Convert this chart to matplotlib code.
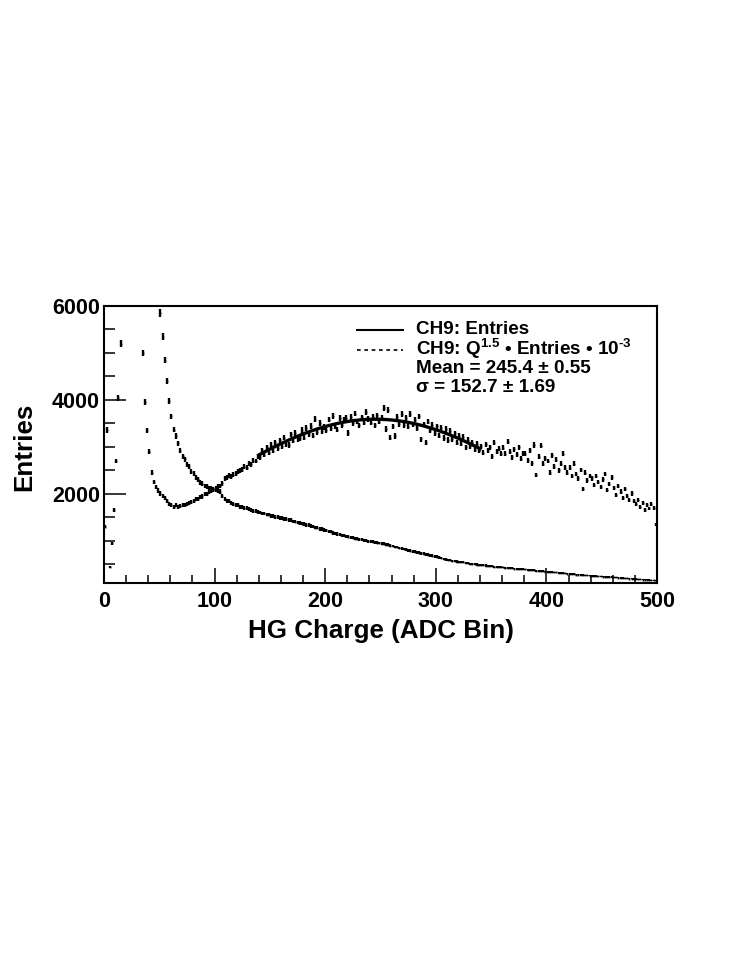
import numpy as np
import matplotlib
matplotlib.use('Agg')
import matplotlib.pyplot as plt
from matplotlib.ticker import MultipleLocator, FixedLocator
from matplotlib.lines import Line2D

plt.rcParams['font.family'] = ['Liberation Sans', 'DejaVu Sans']
plt.rcParams['font.weight'] = 'bold'
plt.rcParams['mathtext.fontset'] = 'custom'
plt.rcParams['mathtext.rm'] = 'Liberation Sans:bold'
plt.rcParams['mathtext.bf'] = 'Liberation Sans:bold'
plt.rcParams['mathtext.it'] = 'Liberation Sans:bold'
plt.rcParams['mathtext.default'] = 'rm'

# ---------------- data ----------------
bin_centers = np.arange(1, 500, 2)  # HG charge, 2-ADC bins

entries = [
    1300000, 650000, 40000, 51000, 61000, 74000, 87000, 89500, 94000, 99000,
    98000, 95000, 88000, 78000, 65000, 51000, 36000, 24000, 17300, 13700,
    10900, 8600, 7300, 6700, 6300, 5850, 5350, 4850, 4400, 3980,
    3650, 3370, 3230, 3080, 2920, 2800, 2740, 2620, 2580, 2470,
    2430, 2350, 2310, 2240, 2220, 2170, 2160, 2120, 2120, 2085,
    2090, 2060, 2050, 1950, 1890, 1845, 1840, 1800, 1795, 1765,
    1755, 1730, 1720, 1695, 1695, 1670, 1665, 1640, 1635, 1610,
    1605, 1585, 1585, 1560, 1560, 1535, 1535, 1510, 1510, 1490,
    1485, 1465, 1460, 1440, 1440, 1415, 1410, 1390, 1385, 1365,
    1360, 1340, 1335, 1315, 1310, 1285, 1280, 1255, 1250, 1230,
    1225, 1200, 1195, 1170, 1165, 1145, 1140, 1120, 1115, 1095,
    1090, 1075, 1070, 1050, 1048, 1035, 1030, 1015, 1012, 995,
    992, 980, 975, 960, 955, 940, 936, 920, 915, 895,
    890, 872, 868, 850, 845, 826, 820, 800, 795, 775,
    770, 758, 750, 735, 730, 715, 708, 690, 686, 668,
    664, 650, 642, 620, 605, 596, 590, 575, 572, 560,
    556, 545, 542, 530, 527, 515, 512, 500, 497, 490,
    486, 478, 476, 466, 463, 455, 452, 445, 443, 436,
    434, 428, 425, 420, 418, 412, 409, 402, 400, 395,
    392, 386, 383, 376, 374, 366, 364, 356, 354, 348,
    345, 339, 336, 330, 328, 322, 318, 311, 308, 302,
    299, 294, 291, 284, 281, 277, 274, 268, 266, 261,
    258, 254, 252, 247, 245, 240, 239, 234, 232, 228,
    226, 221, 219, 214, 212, 206, 204, 198, 196, 191,
    189, 184, 182, 177, 175, 170, 168, 163, 160, 155,
]

weighted = [
    1300, 3360, 450, 950, 1650, 2700, 4050, 5200, 6600, 8200,
    9500, 10500, 11000, 11000, 10200, 8800, 6800, 5000, 3950, 3350,
    2900, 2450, 2250, 2150, 2070, 2010, 1960, 1910, 1850, 1790,
    1765, 1730, 1755, 1720, 1752, 1765, 1770, 1795, 1805, 1830,
    1845, 1885, 1895, 1930, 1945, 1990, 2000, 2045, 2060, 2110,
    2115, 2160, 2170, 2225, 2330, 2350, 2390, 2370, 2410, 2430,
    2475, 2500, 2515, 2580, 2560, 2640, 2630, 2710, 2700, 2790,
    2780, 2930, 2830, 2990, 2880, 3050, 2920, 3100, 2970, 3140,
    3020, 3200, 3060, 3040, 3270, 3130, 3300, 3160, 3190, 3360,
    3200, 3400, 3270, 3450, 3240, 3600, 3320, 3510, 3330, 3420,
    3360, 3580, 3400, 3660, 3450, 3370, 3620, 3460, 3580, 3610,
    3300, 3640, 3500, 3710, 3540, 3460, 3630, 3520, 3750, 3600,
    3520, 3640, 3460, 3670, 3540, 3610, 3830, 3380, 3780, 3200,
    3440, 3230, 3640, 3490, 3700, 3460, 3610, 3430, 3700, 3480,
    3580, 3400, 3650, 3160, 3480, 3090, 3540, 3360, 3470, 3290,
    3440, 3240, 3400, 3190, 3380, 3150, 3340, 3170, 3290, 3090,
    3240, 3070, 3210, 2990, 3150, 3010, 3100, 2940, 3070, 2920,
    3010, 2880, 3060, 2930, 2990, 2800, 3090, 2900, 2960, 2850,
    2980, 2860, 3110, 2900, 2780, 2950, 2840, 2990, 2750, 2870,
    2850, 2720, 2930, 2650, 3040, 2400, 2790, 3030, 2640, 2760,
    2700, 2450, 2820, 2580, 2730, 2500, 2640, 2860, 2560, 2450,
    2560, 2380, 2640, 2420, 2330, 2510, 2100, 2450, 2290, 2380,
    2330, 2190, 2380, 2250, 2150, 2310, 2420, 2080, 2210, 2350,
    2120, 1980, 2170, 2050, 1920, 2100, 1960, 1880, 2010, 1850,
    1780, 1880, 1720, 1800, 1650, 1760, 1690, 1780, 1700, 1350,
]

# Gaussian fit shown on the weighted spectrum
fit_amp = 3590.0
fit_mean = 245.4
fit_mean_err = 0.55
fit_sigma = 152.7
fit_sigma_err = 1.69
fit_range = (140, 340)

legend_labels = ["CH9: Entries",
                 "CH9: Q$^{1.5}$ \u2022 Entries \u2022 10$^{\u20103}$"]
x_label = "HG Charge (ADC Bin)"
y_label = "Entries"

# ---------------- figure ----------------
W, H = 747, 967
fig = plt.figure(figsize=(W / 100, H / 100), dpi=100)
ax = fig.add_axes([104 / W, 1 - 582.7 / H, (657 - 104) / W, (582.7 - 306) / H])

entries_a = np.array(entries, dtype=float)
weighted_a = np.array(weighted, dtype=float)

ax.errorbar(bin_centers, entries_a, yerr=np.sqrt(entries_a), fmt='s', ms=1.3,
            mew=0, color='black', ecolor='black', elinewidth=1.7, capsize=0)
ax.errorbar(bin_centers, weighted_a, yerr=np.sqrt(weighted_a), fmt='s', ms=1.3,
            mew=0, color='black', ecolor='black', elinewidth=1.7, capsize=0)

xf = np.linspace(fit_range[0], fit_range[1], 400)
ax.plot(xf, fit_amp * np.exp(-0.5 * ((xf - fit_mean) / fit_sigma) ** 2),
        color='black', lw=2.4)

ax.set_xlim(0, 500)
ax.set_ylim(110, 6000)
ax.xaxis.set_major_locator(MultipleLocator(100))
ax.xaxis.set_minor_locator(MultipleLocator(20))
ax.yaxis.set_major_locator(FixedLocator([2000, 4000, 6000]))
ax.yaxis.set_minor_locator(MultipleLocator(500))

for s in ax.spines.values():
    s.set_linewidth(1.5)

ax.tick_params(axis='both', which='both', direction='in', top=False, right=False,
               width=1.1, labelsize=15.5)
ax.tick_params(axis='y', which='major', length=16, pad=3)
ax.tick_params(axis='y', which='minor', length=8)
ax.tick_params(axis='x', which='major', length=11, pad=6)
ax.tick_params(axis='x', which='minor', length=5.5)
for lab in ax.get_xticklabels() + ax.get_yticklabels():
    lab.set_fontweight('bold')

fig.text(380.5 / W, 1 - 631 / H, x_label, ha='center', va='center',
         fontsize=18.7, fontweight='bold')
fig.text(24 / W, 1 - 446.5 / H, y_label, ha='center', va='center',
         rotation=90, fontsize=18.7, fontweight='bold')

# legend / stats box
fig.add_artist(Line2D([357 / W, 403 / W], [1 - 330 / H] * 2, color='black', lw=1.5))
fig.add_artist(Line2D([357 / W, 403 / W], [1 - 350 / H] * 2, color='black', lw=1.2,
                      linestyle=(0, (2.2, 2.2))))
tx = 416 / W
fig.text(tx, 1 - 329 / H, legend_labels[0], va='center', fontsize=13.6, fontweight='bold')
fig.text(tx, 1 - 349 / H, legend_labels[1], va='center', fontsize=13.6, fontweight='bold')
fig.text(tx, 1 - 368 / H, f"Mean = {fit_mean:.1f} \u00b1 {fit_mean_err:.2f}",
         va='center', fontsize=13.6, fontweight='bold')
fig.text(tx, 1 - 387 / H, f"\u03c3 = {fit_sigma:.1f} \u00b1 {fit_sigma_err:.2f}",
         va='center', fontsize=13.6, fontweight='bold')

fig.savefig('out.png', dpi=100)
